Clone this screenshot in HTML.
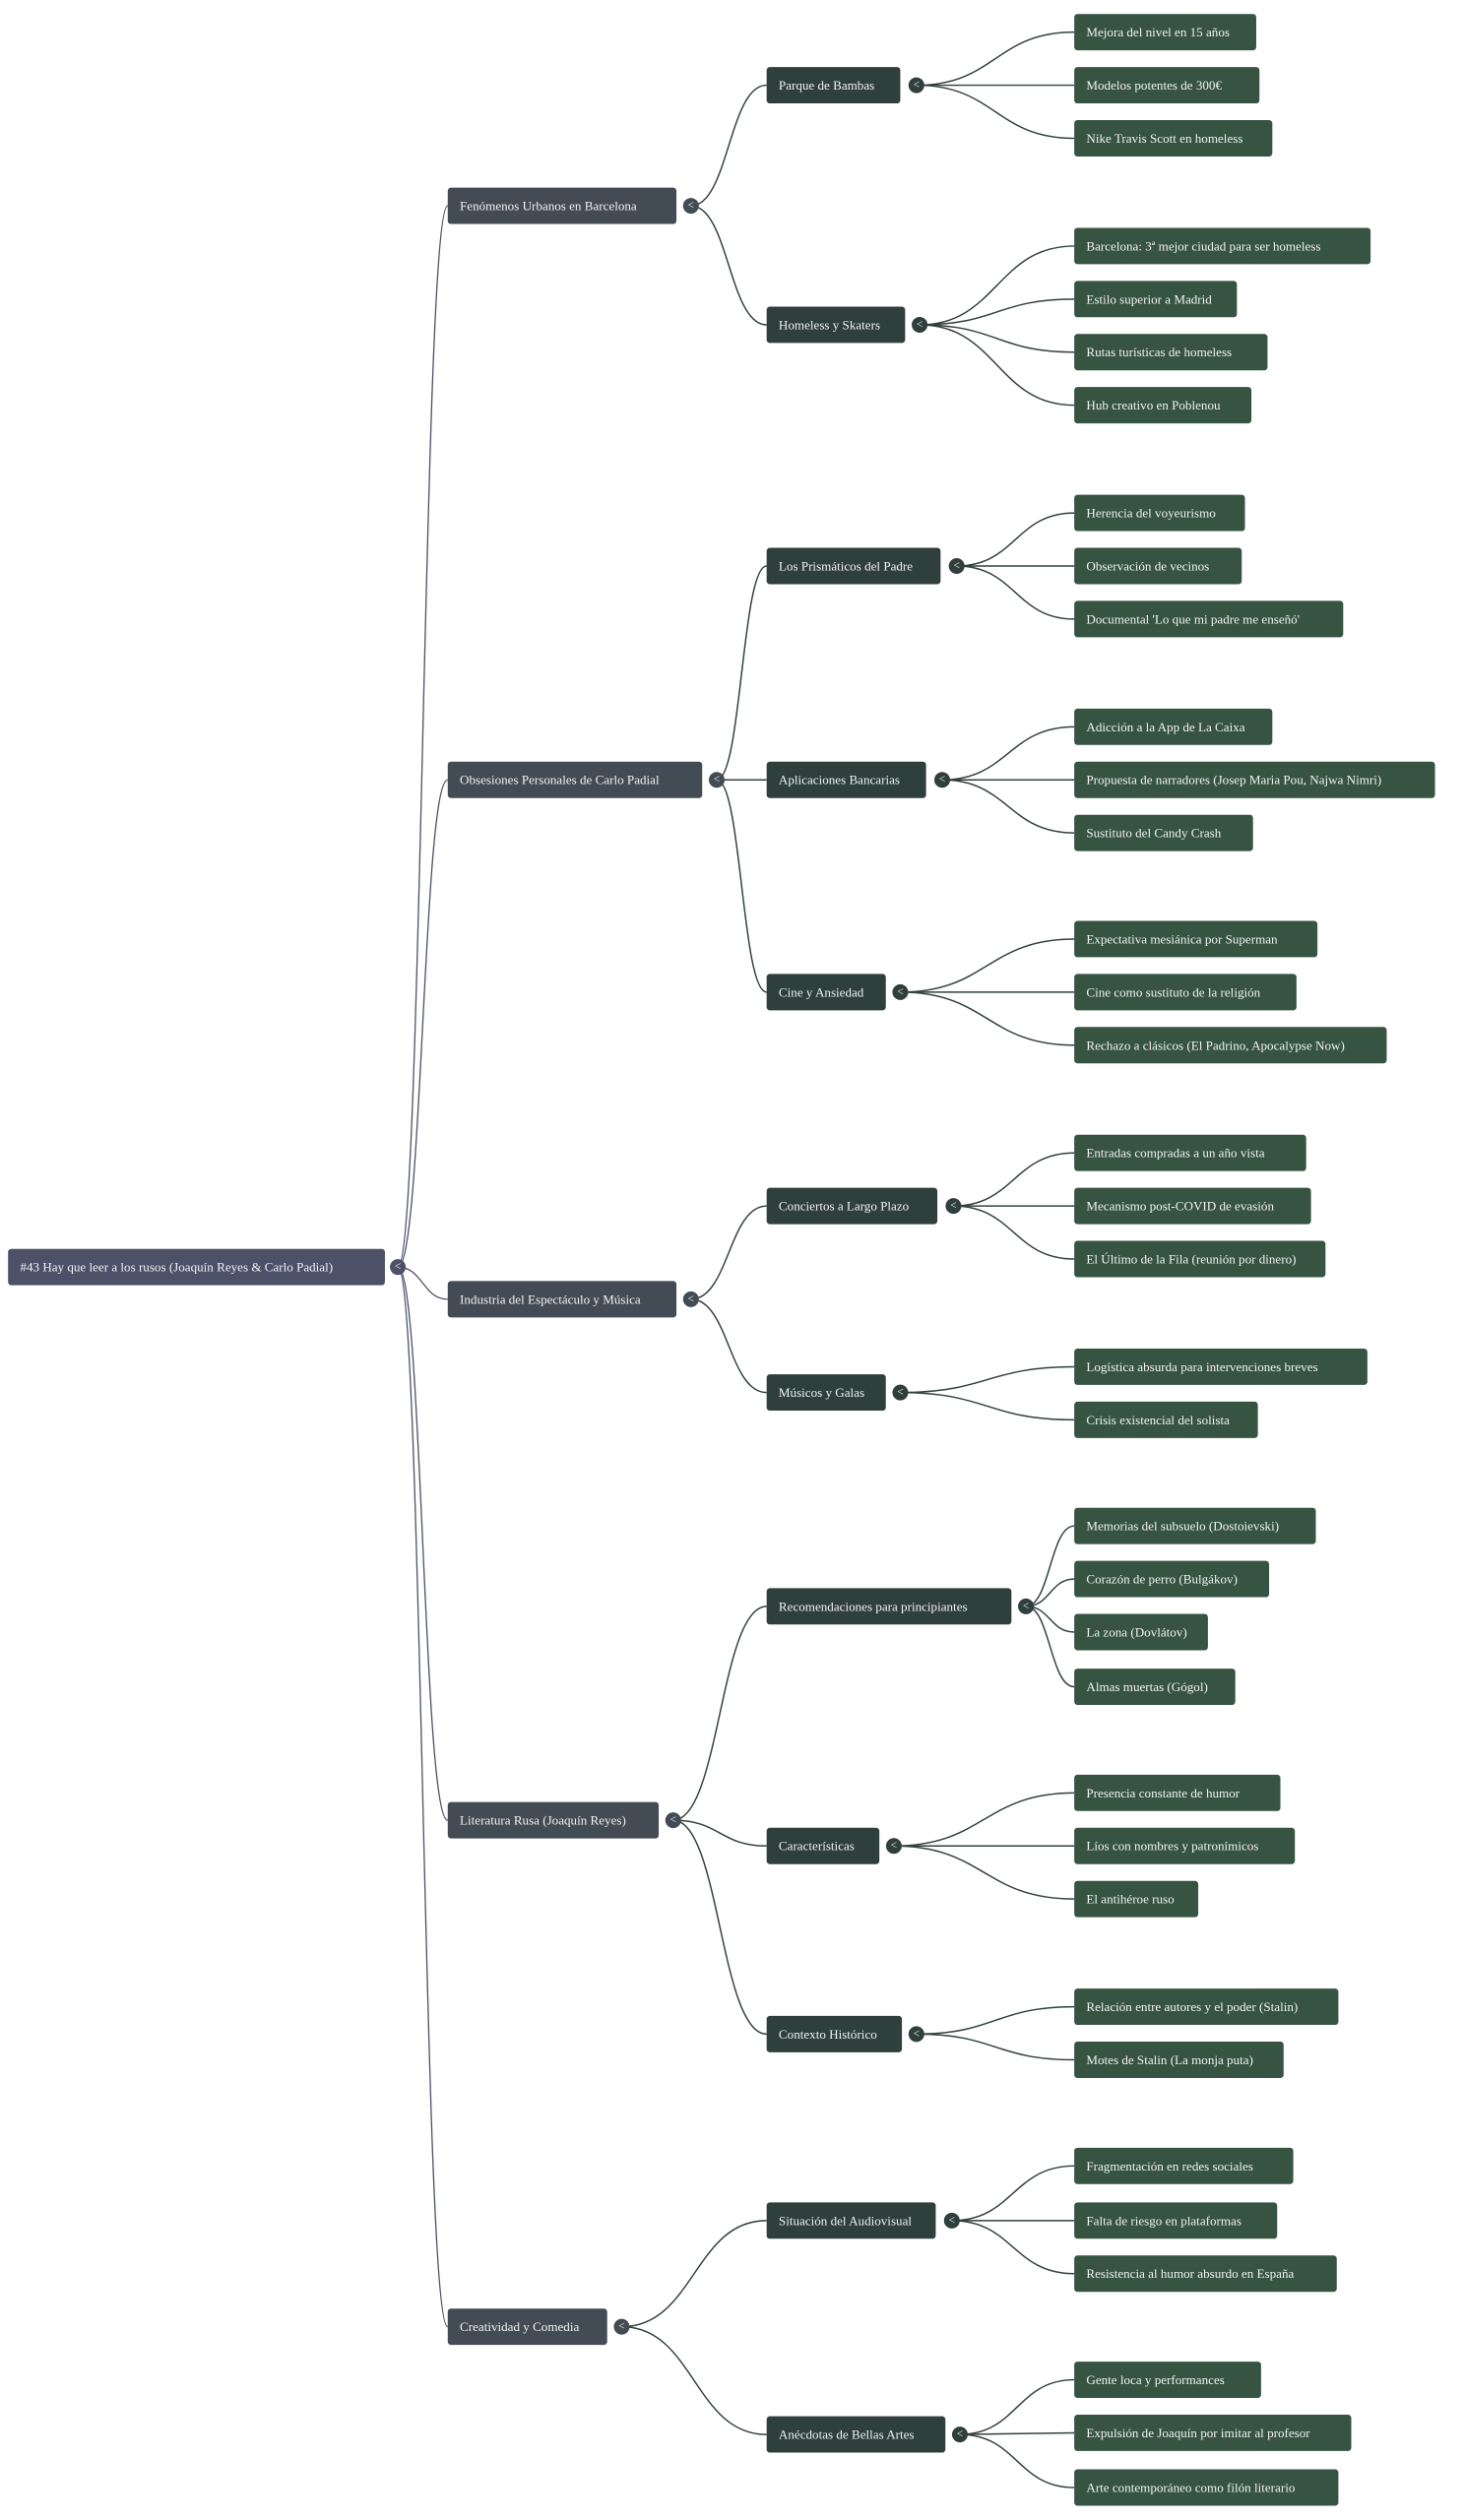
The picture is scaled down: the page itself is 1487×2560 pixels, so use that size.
<!DOCTYPE html>
<html><head><meta charset="utf-8"><style>
html,body{margin:0;padding:0;background:#fff;}
svg{display:block;}
text{font-family:"Liberation Serif",serif;font-size:8px;fill:#f2f2f2;dominant-baseline:central;}
.r{fill:#4d5168}.l1{fill:#434b55}.l2{fill:#2f3f3b}.lf{fill:#365441}
.pr{fill:none;stroke:#4d5168;stroke-width:0.8}
.p{fill:none;stroke:#33403b;stroke-width:0.9}
.c text{font-size:7px;text-anchor:middle}
</style></head><body>
<svg width="1487" height="2560" viewBox="0 0 909 1567.2" preserveAspectRatio="none" xmlns="http://www.w3.org/2000/svg">
<g class="pr">
<path d="M247,788 C262.5,788 262.5,128 278,128"/>
<path d="M247,788 C262.5,788 262.5,485 278,485"/>
<path d="M247,788 C262.5,788 262.5,808 278,808"/>
<path d="M247,788 C262.5,788 262.5,1132 278,1132"/>
<path d="M247,788 C262.5,788 262.5,1447 278,1447"/>
</g>
<g class="p">
<path d="M429,128 C452.5,128 452.5,53 476,53"/>
<path d="M429,128 C452.5,128 452.5,202 476,202"/>
<path d="M445,485 C460.5,485 460.5,352 476,352"/>
<path d="M445,485 L476,485"/>
<path d="M445,485 C460.5,485 460.5,617 476,617"/>
<path d="M429,808 C452.5,808 452.5,750 476,750"/>
<path d="M429,808 C452.5,808 452.5,866 476,866"/>
<path d="M418,1132 C447,1132 447,999 476,999"/>
<path d="M418,1132 C447,1132 447,1148 476,1148"/>
<path d="M418,1132 C447,1132 447,1265 476,1265"/>
<path d="M386,1447 C431,1447 431,1381 476,1381"/>
<path d="M386,1447 C431,1447 431,1514 476,1514"/>

<path d="M569,53 C618,53 618,20 667,20"/><path d="M569,53 L667,53"/><path d="M569,53 C618,53 618,86 667,86"/>
<path d="M571,202 C619,202 619,153 667,153"/><path d="M571,202 C619,202 619,186 667,186"/><path d="M571,202 C619,202 619,219 667,219"/><path d="M571,202 C619,202 619,252 667,252"/>
<path d="M594,352 C630.5,352 630.5,319 667,319"/><path d="M594,352 L667,352"/><path d="M594,352 C630.5,352 630.5,385 667,385"/>
<path d="M585,485 C626,485 626,452 667,452"/><path d="M585,485 L667,485"/><path d="M585,485 C626,485 626,518 667,518"/>
<path d="M559,617 C613,617 613,584 667,584"/><path d="M559,617 L667,617"/><path d="M559,617 C613,617 613,650 667,650"/>
<path d="M592,750 C629.5,750 629.5,717 667,717"/><path d="M592,750 L667,750"/><path d="M592,750 C629.5,750 629.5,783 667,783"/>
<path d="M559,866 C613,866 613,850 667,850"/><path d="M559,866 C613,866 613,883 667,883"/>
<path d="M637,999 C652,999 652,949 667,949"/><path d="M637,999 C652,999 652,982 667,982"/><path d="M637,999 C652,999 652,1015 667,1015"/><path d="M637,999 C652,999 652,1049 667,1049"/>
<path d="M555,1148 C611,1148 611,1115 667,1115"/><path d="M555,1148 L667,1148"/><path d="M555,1148 C611,1148 611,1181 667,1181"/>
<path d="M569,1265 C618,1265 618,1248 667,1248"/><path d="M569,1265 C618,1265 618,1281 667,1281"/>
<path d="M591,1381 C629,1381 629,1347 667,1347"/><path d="M591,1381 L667,1381"/><path d="M591,1381 C629,1381 629,1414 667,1414"/>
<path d="M596,1514 C631.5,1514 631.5,1480 667,1480"/><path d="M596,1514 L667,1513"/><path d="M596,1514 C631.5,1514 631.5,1547 667,1547"/>
</g>

<rect class="r" x="5" y="776.7" width="234" height="22.6" rx="2"/>
<text x="12.5" y="788">#43 Hay que leer a los rusos (Joaquín Reyes &amp; Carlo Padial)</text>
<g class="c"><circle class="r" cx="247" cy="788" r="4.9"/><text x="247" y="788">&lt;</text></g>

<rect class="l1" x="278" y="116.7" width="142" height="22.6" rx="2"/><text x="285.5" y="128">Fenómenos Urbanos en Barcelona</text>
<rect class="l1" x="278" y="473.7" width="158" height="22.6" rx="2"/><text x="285.5" y="485">Obsesiones Personales de Carlo Padial</text>
<rect class="l1" x="278" y="796.7" width="142" height="22.6" rx="2"/><text x="285.5" y="808">Industria del Espectáculo y Música</text>
<rect class="l1" x="278" y="1120.7" width="131" height="22.6" rx="2"/><text x="285.5" y="1132">Literatura Rusa (Joaquín Reyes)</text>
<rect class="l1" x="278" y="1435.7" width="99" height="22.6" rx="2"/><text x="285.5" y="1447">Creatividad y Comedia</text>
<g class="c">
<circle class="l1" cx="429" cy="128" r="4.9"/><text x="429" y="128">&lt;</text>
<circle class="l1" cx="445" cy="485" r="4.9"/><text x="445" y="485">&lt;</text>
<circle class="l1" cx="429" cy="808" r="4.9"/><text x="429" y="808">&lt;</text>
<circle class="l1" cx="418" cy="1132" r="4.9"/><text x="418" y="1132">&lt;</text>
<circle class="l1" cx="386" cy="1447" r="4.9"/><text x="386" y="1447">&lt;</text>
</g>

<rect class="l2" x="476" y="41.7" width="83" height="22.6" rx="2"/><text x="483.5" y="53">Parque de Bambas</text>
<rect class="l2" x="476" y="190.7" width="86" height="22.6" rx="2"/><text x="483.5" y="202">Homeless y Skaters</text>
<rect class="l2" x="476" y="340.7" width="108" height="22.6" rx="2"/><text x="483.5" y="352">Los Prismáticos del Padre</text>
<rect class="l2" x="476" y="473.7" width="99" height="22.6" rx="2"/><text x="483.5" y="485">Aplicaciones Bancarias</text>
<rect class="l2" x="476" y="605.7" width="74" height="22.6" rx="2"/><text x="483.5" y="617">Cine y Ansiedad</text>
<rect class="l2" x="476" y="738.7" width="106" height="22.6" rx="2"/><text x="483.5" y="750">Conciertos a Largo Plazo</text>
<rect class="l2" x="476" y="854.7" width="74" height="22.6" rx="2"/><text x="483.5" y="866">Músicos y Galas</text>
<rect class="l2" x="476" y="987.7" width="152" height="22.6" rx="2"/><text x="483.5" y="999">Recomendaciones para principiantes</text>
<rect class="l2" x="476" y="1136.7" width="70" height="22.6" rx="2"/><text x="483.5" y="1148">Características</text>
<rect class="l2" x="476" y="1253.7" width="84" height="22.6" rx="2"/><text x="483.5" y="1265">Contexto Histórico</text>
<rect class="l2" x="476" y="1369.7" width="105" height="22.6" rx="2"/><text x="483.5" y="1381">Situación del Audiovisual</text>
<rect class="l2" x="476" y="1502.7" width="111" height="22.6" rx="2"/><text x="483.5" y="1514">Anécdotas de Bellas Artes</text>
<g class="c">
<circle class="l2" cx="569" cy="53" r="4.9"/><text x="569" y="53">&lt;</text>
<circle class="l2" cx="571" cy="202" r="4.9"/><text x="571" y="202">&lt;</text>
<circle class="l2" cx="594" cy="352" r="4.9"/><text x="594" y="352">&lt;</text>
<circle class="l2" cx="585" cy="485" r="4.9"/><text x="585" y="485">&lt;</text>
<circle class="l2" cx="559" cy="617" r="4.9"/><text x="559" y="617">&lt;</text>
<circle class="l2" cx="592" cy="750" r="4.9"/><text x="592" y="750">&lt;</text>
<circle class="l2" cx="559" cy="866" r="4.9"/><text x="559" y="866">&lt;</text>
<circle class="l2" cx="637" cy="999" r="4.9"/><text x="637" y="999">&lt;</text>
<circle class="l2" cx="555" cy="1148" r="4.9"/><text x="555" y="1148">&lt;</text>
<circle class="l2" cx="569" cy="1265" r="4.9"/><text x="569" y="1265">&lt;</text>
<circle class="l2" cx="591" cy="1381" r="4.9"/><text x="591" y="1381">&lt;</text>
<circle class="l2" cx="596" cy="1514" r="4.9"/><text x="596" y="1514">&lt;</text>
</g>

<rect class="lf" x="667" y="8.7" width="113" height="22.6" rx="2"/><text x="674.5" y="20">Mejora del nivel en 15 años</text>
<rect class="lf" x="667" y="41.7" width="115" height="22.6" rx="2"/><text x="674.5" y="53">Modelos potentes de 300€</text>
<rect class="lf" x="667" y="74.7" width="123" height="22.6" rx="2"/><text x="674.5" y="86">Nike Travis Scott en homeless</text>
<rect class="lf" x="667" y="141.7" width="184" height="22.6" rx="2"/><text x="674.5" y="153">Barcelona: 3ª mejor ciudad para ser homeless</text>
<rect class="lf" x="667" y="174.7" width="101" height="22.6" rx="2"/><text x="674.5" y="186">Estilo superior a Madrid</text>
<rect class="lf" x="667" y="207.7" width="120" height="22.6" rx="2"/><text x="674.5" y="219">Rutas turísticas de homeless</text>
<rect class="lf" x="667" y="240.7" width="110" height="22.6" rx="2"/><text x="674.5" y="252">Hub creativo en Poblenou</text>
<rect class="lf" x="667" y="307.7" width="106" height="22.6" rx="2"/><text x="674.5" y="319">Herencia del voyeurismo</text>
<rect class="lf" x="667" y="340.7" width="104" height="22.6" rx="2"/><text x="674.5" y="352">Observación de vecinos</text>
<rect class="lf" x="667" y="373.7" width="167" height="22.6" rx="2"/><text x="674.5" y="385">Documental 'Lo que mi padre me enseñó'</text>
<rect class="lf" x="667" y="440.7" width="123" height="22.6" rx="2"/><text x="674.5" y="452">Adicción a la App de La Caixa</text>
<rect class="lf" x="667" y="473.7" width="224" height="22.6" rx="2"/><text x="674.5" y="485">Propuesta de narradores (Josep Maria Pou, Najwa Nimri)</text>
<rect class="lf" x="667" y="506.7" width="111" height="22.6" rx="2"/><text x="674.5" y="518">Sustituto del Candy Crash</text>
<rect class="lf" x="667" y="572.7" width="151" height="22.6" rx="2"/><text x="674.5" y="584">Expectativa mesiánica por Superman</text>
<rect class="lf" x="667" y="605.7" width="138" height="22.6" rx="2"/><text x="674.5" y="617">Cine como sustituto de la religión</text>
<rect class="lf" x="667" y="638.7" width="194" height="22.6" rx="2"/><text x="674.5" y="650">Rechazo a clásicos (El Padrino, Apocalypse Now)</text>
<rect class="lf" x="667" y="705.7" width="144" height="22.6" rx="2"/><text x="674.5" y="717">Entradas compradas a un año vista</text>
<rect class="lf" x="667" y="738.7" width="147" height="22.6" rx="2"/><text x="674.5" y="750">Mecanismo post-COVID de evasión</text>
<rect class="lf" x="667" y="771.7" width="156" height="22.6" rx="2"/><text x="674.5" y="783">El Último de la Fila (reunión por dinero)</text>
<rect class="lf" x="667" y="838.7" width="182" height="22.6" rx="2"/><text x="674.5" y="850">Logística absurda para intervenciones breves</text>
<rect class="lf" x="667" y="871.7" width="114" height="22.6" rx="2"/><text x="674.5" y="883">Crisis existencial del solista</text>
<rect class="lf" x="667" y="937.7" width="150" height="22.6" rx="2"/><text x="674.5" y="949">Memorias del subsuelo (Dostoievski)</text>
<rect class="lf" x="667" y="970.7" width="121" height="22.6" rx="2"/><text x="674.5" y="982">Corazón de perro (Bulgákov)</text>
<rect class="lf" x="667" y="1003.7" width="83" height="22.6" rx="2"/><text x="674.5" y="1015">La zona (Dovlátov)</text>
<rect class="lf" x="667" y="1037.7" width="100" height="22.6" rx="2"/><text x="674.5" y="1049">Almas muertas (Gógol)</text>
<rect class="lf" x="667" y="1103.7" width="128" height="22.6" rx="2"/><text x="674.5" y="1115">Presencia constante de humor</text>
<rect class="lf" x="667" y="1136.7" width="137" height="22.6" rx="2"/><text x="674.5" y="1148">Líos con nombres y patronímicos</text>
<rect class="lf" x="667" y="1169.7" width="77" height="22.6" rx="2"/><text x="674.5" y="1181">El antihéroe ruso</text>
<rect class="lf" x="667" y="1236.7" width="164" height="22.6" rx="2"/><text x="674.5" y="1248">Relación entre autores y el poder (Stalin)</text>
<rect class="lf" x="667" y="1269.7" width="130" height="22.6" rx="2"/><text x="674.5" y="1281">Motes de Stalin (La monja puta)</text>
<rect class="lf" x="667" y="1335.7" width="136" height="22.6" rx="2"/><text x="674.5" y="1347">Fragmentación en redes sociales</text>
<rect class="lf" x="667" y="1369.7" width="126" height="22.6" rx="2"/><text x="674.5" y="1381">Falta de riesgo en plataformas</text>
<rect class="lf" x="667" y="1402.7" width="163" height="22.6" rx="2"/><text x="674.5" y="1414">Resistencia al humor absurdo en España</text>
<rect class="lf" x="667" y="1468.7" width="116" height="22.6" rx="2"/><text x="674.5" y="1480">Gente loca y performances</text>
<rect class="lf" x="667" y="1501.7" width="172" height="22.6" rx="2"/><text x="674.5" y="1513">Expulsión de Joaquín por imitar al profesor</text>
<rect class="lf" x="667" y="1535.7" width="164" height="22.6" rx="2"/><text x="674.5" y="1547">Arte contemporáneo como filón literario</text>
</svg>
</body></html>
